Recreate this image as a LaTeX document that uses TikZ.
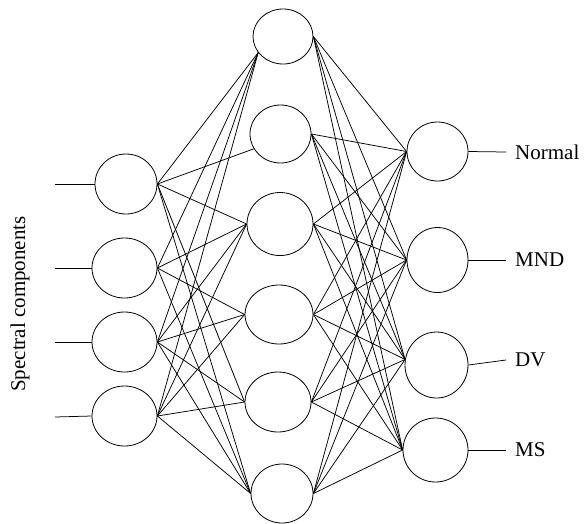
\documentclass[tikz,border=0pt]{standalone}
\usepackage{fontspec}
\setmainfont{Liberation Serif}
\usetikzlibrary{shapes.geometric}
\begin{document}
\begin{tikzpicture}[x=1pt,y=-1pt,
  neuron/.style={draw, ellipse, inner sep=0pt, line width=0.8pt},
  link/.style={line width=0.75pt},
  lbl/.style={font=\fontsize{21}{24}\selectfont, inner sep=0pt}]
\useasboundingbox (0,0) rectangle (586,523);
% input layer
\node[neuron, minimum width=62pt, minimum height=60pt] (i1) at (126,184) {};
\node[neuron, minimum width=65pt, minimum height=60pt] (i2) at (124.5,268) {};
\node[neuron, minimum width=65pt, minimum height=60pt] (i3) at (124.5,342) {};
\node[neuron, minimum width=65pt, minimum height=60pt] (i4) at (124.5,416) {};
% hidden layer
\node[neuron, minimum width=60pt, minimum height=55pt] (h1) at (283,36.5) {};
\node[neuron, minimum width=61pt, minimum height=58pt] (h2) at (280.5,134) {};
\node[neuron, minimum width=66pt, minimum height=63pt] (h3) at (280,224) {};
\node[neuron, minimum width=68pt, minimum height=59pt] (h4) at (279,314.5) {};
\node[neuron, minimum width=66pt, minimum height=60pt] (h5) at (278,402) {};
\node[neuron, minimum width=62pt, minimum height=59pt] (h6) at (282,493.5) {};
% output layer
\node[neuron, minimum width=61pt, minimum height=59pt] (o1) at (437.5,151.5) {};
\node[neuron, minimum width=61pt, minimum height=65pt] (o2) at (437.5,260) {};
\node[neuron, minimum width=63pt, minimum height=66pt] (o3) at (436.5,365) {};
\node[neuron, minimum width=65pt, minimum height=64pt] (o4) at (435.5,450) {};
% input stubs
\coordinate (s1) at (55,184);
\coordinate (s2) at (55,268);
\coordinate (s3) at (55,342);
\coordinate (s4) at (55,417);
\foreach \k in {1,2,3,4} \draw[link] (s\k) -- (i\k.west);
% output stubs and labels
\coordinate (t1) at (506,152);
\coordinate (t2) at (506,260);
\coordinate (t3) at (506,360);
\coordinate (t4) at (506,450);
\draw[link] (o1.east) -- (t1);
\draw[link] (o2.east) -- (t2);
\draw[link] (o3.east) -- (t3);
\draw[link] (o4.east) -- (t4);
\node[lbl, anchor=west] (l1) at (515,152) {Normal};
\node[lbl, anchor=west] (l2) at (515,260) {MND};
\node[lbl, anchor=west] (l3) at (515,360) {DV};
\node[lbl, anchor=west] (l4) at (515,450) {MS};
\node[lbl, rotate=90] (sc) at (20,304) {Spectral components};
% input -> hidden
\foreach \k in {1,2,3,4} \draw[link] (i\k.east) -- (h1.213);
\draw[link] (i1.east) -- (h2.209);
\foreach \k in {1,2,3,4} \draw[link] (i\k.east) -- (h3.west);
\foreach \k in {2,3,4} \draw[link] (i\k.east) -- (h4.west);
\foreach \k in {1,3,4} \draw[link] (i\k.east) -- (h5.west);
\foreach \k in {1,2,3,4} \draw[link] (i\k.east) -- (h6.west);
% hidden -> output
\foreach \j in {1,...,6} {
  \draw[link] (h\j.east) -- (o1.west);
  \draw[link] (h\j.east) -- (o2.west);
  \draw[link] (h\j.east) -- (o3.170);
  \draw[link] (h\j.east) -- (o4.west);
}
\end{tikzpicture}
\end{document}
